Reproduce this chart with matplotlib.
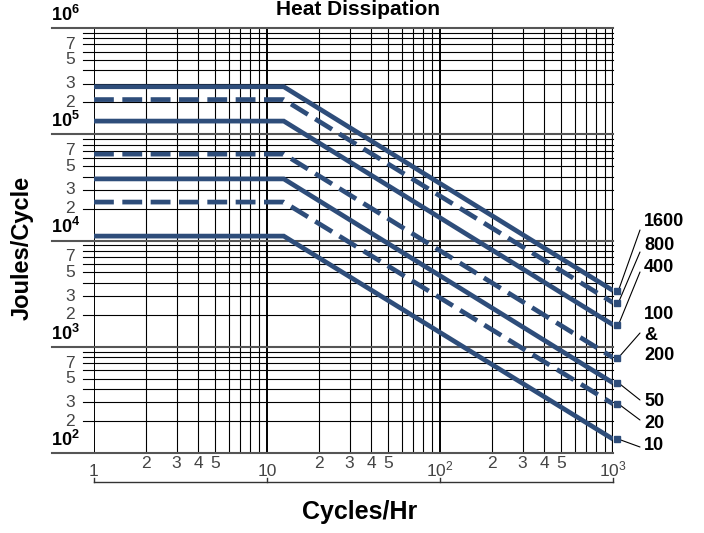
import matplotlib
matplotlib.use("Agg")
import matplotlib.pyplot as plt
import matplotlib.transforms as mtransforms

plt.rcParams['font.family'] = ['Liberation Sans', 'DejaVu Sans']
plt.rcParams['mathtext.fontset'] = 'custom'
plt.rcParams['mathtext.rm'] = 'Liberation Sans'
plt.rcParams['mathtext.bf'] = 'Liberation Sans:bold'

# rating curves, J/cycle: flat up to the break rate, then falling to the 1000/hr value
watt_labels = ['1600', '800', '400', '100\n&\n200', '50', '20', '10']
plateau = [2.8e5, 2.12e5, 1.33e5, 6.5e4, 3.8e4, 2.3e4, 1.1e4]
at_1000 = [3380, 2600, 1610, 790, 457, 290, 135]
dashed = [False, True, False, True, False, True, False]
break_rate = 12.5

x_decades = [1, 10, 100]
y_decades = [1e2, 1e3, 1e4, 1e5]
y_minor_labels = [2, 3, 5, 7]
x_minor_labels = [2, 3, 4, 5]

# label placement (pixels from top-left): text centre y, leader end y
label_y = [222, 245, 267, 335, 402, 424, 446]
leader_y = [230, 252, 272, 333, 400, 420, 447]

W, H = 704, 533
blue = '#2e4d7a'
grey = '#444444'

fig = plt.figure(figsize=(W / 100, H / 100), dpi=100)
L, R, T, B = 94, 613, 28, 453
ax = fig.add_axes([L / W, 1 - B / H, (R - L) / W, (B - T) / H])
ax.set_xscale('log')
ax.set_yscale('log')
ax.set_xlim(1, 1000)
ax.set_ylim(1e2, 1e6)
ax.set_xticks([])
ax.set_yticks([])
ax.minorticks_off()
for s in ax.spines.values():
    s.set_visible(False)


def fx(px):
    return px / W


def fy(py):
    return 1 - py / H


def ax_frac(px):
    return (px - L) / (R - L)


# vertical grid
for d in x_decades:
    for k in range(1, 10):
        lw = 1.4 if k == 1 else 0.8
        ax.axvline(d * k, color='black', lw=lw, zorder=1)
ax.axvline(1000, color='black', lw=1.6, zorder=1)

# horizontal grid, with ticks reaching out to the left
ytrans = mtransforms.blended_transform_factory(ax.transAxes, ax.transData)
for d in y_decades:
    for k in range(1, 10):
        v = d * k
        if k == 1:
            ax.plot([ax_frac(52), 1], [v, v], transform=ytrans, color='#555555',
                    lw=1.5, clip_on=False, zorder=1)
        else:
            ax.plot([ax_frac(83), 1], [v, v], transform=ytrans, color='black',
                    lw=0.8, clip_on=False, zorder=1)
ax.plot([ax_frac(52), 1], [1e6, 1e6], transform=ytrans, color='#555555',
        lw=1.5, clip_on=False, zorder=1)

# y labels
for d in y_decades + [1e6]:
    exp = len(str(int(d))) - 1
    ax.text(ax_frac(51), d * 1.07, r'$\mathbf{10^{%d}}$' % exp, transform=ytrans,
            ha='left', va='bottom', fontsize=13, color='black')
    if d < 1e6:
        for k in y_minor_labels:
            ax.text(ax_frac(75), d * k, str(k), transform=ytrans, ha='right',
                    va='center', fontsize=12.5, color=grey)

# x labels
xtrans = mtransforms.blended_transform_factory(ax.transData, fig.transFigure)
ax.text(1, fy(471), '1', transform=xtrans, ha='center', va='center',
        fontsize=12.5, color=grey)
ax.text(10, fy(471), '10', transform=xtrans, ha='center', va='center',
        fontsize=12.5, color=grey)
ax.text(100, fy(469), r'$\mathregular{10^2}$', transform=xtrans, ha='center',
        va='center', fontsize=12.5, color=grey)
ax.text(1000, fy(469), r'$\mathregular{10^3}$', transform=xtrans, ha='center',
        va='center', fontsize=12.5, color=grey)
for d in x_decades:
    for k in x_minor_labels:
        ax.text(d * k, fy(464), str(k), transform=xtrans, ha='center',
                va='center', fontsize=12.5, color=grey)

# bracket under the x axis
ax.plot([1, 1000], [fy(482), fy(482)], transform=xtrans, color='#333333',
        lw=1.0, clip_on=False)
for d in [1, 10, 100, 1000]:
    ax.plot([d, d], [fy(482), fy(478)], transform=xtrans, color='#333333',
            lw=1.0, clip_on=False)

# curves
for i in range(len(plateau)):
    xs = [1, break_rate, 1000]
    ys = [plateau[i], plateau[i], at_1000[i]]
    ls = (0, (4.2, 1.8)) if dashed[i] else '-'
    ax.plot(xs, ys, color=blue, lw=3.4, linestyle=ls, solid_capstyle='butt',
            dash_capstyle='butt', solid_joinstyle='miter', zorder=3)
    ax.plot([1060], [at_1000[i]], marker='s', ms=5, color=blue,
            clip_on=False, zorder=4)
    ax.annotate('', xy=(1075, at_1000[i]), xycoords='data',
                xytext=(fx(640), fy(leader_y[i])), textcoords='figure fraction',
                arrowprops=dict(arrowstyle='-', lw=0.8, color='black',
                                shrinkA=0, shrinkB=0), annotation_clip=False)
    fig.text(fx(644), fy(label_y[i]), watt_labels[i], ha='left', va='center',
             fontsize=13, fontweight='bold', linespacing=1.25)

fig.text(fx(358), fy(15), 'Heat Dissipation', ha='center', va='baseline',
         fontsize=15, fontweight='bold')
fig.text(fx(22), fy(248), 'Joules/Cycle', ha='center', va='center',
         rotation=90, fontsize=17, fontweight='bold')
fig.text(fx(360), fy(512), 'Cycles/Hr', ha='center', va='center',
         fontsize=18, fontweight='bold')

fig.savefig('out.png', dpi=100)
